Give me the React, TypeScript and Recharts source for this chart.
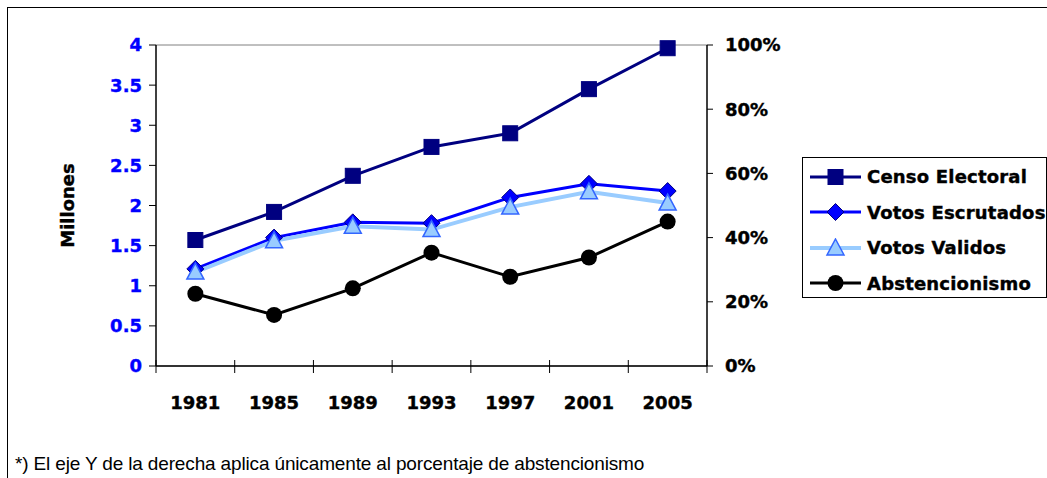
import React from 'react';
import { LineChart, Line, XAxis, YAxis, Label, ReferenceLine } from 'recharts';

// años de las elecciones
const YEARS = ['1981', '1985', '1989', '1993', '1997', '2001', '2005'];
// millones de personas
const CENSO = [1.57, 1.92, 2.37, 2.73, 2.9, 3.45, 3.96];
const ESCRUTADOS = [1.21, 1.6, 1.79, 1.78, 2.1, 2.27, 2.18];
const VALIDOS = [1.17, 1.56, 1.74, 1.7, 1.98, 2.17, 2.03];
// porcentaje (eje derecho)
const ABSTENCION = [22.5, 15.9, 24.2, 35.3, 27.8, 33.8, 45.0];

const LEFT_TICKS = [0, 0.5, 1, 1.5, 2, 2.5, 3, 3.5, 4];
const RIGHT_TICKS = [0, 20, 40, 60, 80, 100];

const SERIES = [
  { key: 'censo', name: 'Censo Electoral', color: '#000080', width: 3, shape: 'square' },
  { key: 'escrutados', name: 'Votos Escrutados', color: '#0000FF', width: 3, shape: 'diamond' },
  { key: 'validos', name: 'Votos Validos', color: '#99CCFF', width: 4, shape: 'triangle' },
  { key: 'abst', name: 'Abstencionismo', color: '#000000', width: 3, shape: 'circle' },
];

const data = YEARS.map((year, i) => ({
  year,
  censo: CENSO[i],
  escrutados: ESCRUTADOS[i],
  validos: VALIDOS[i],
  abst: ABSTENCION[i],
}));

const CHART_W = 1039;
const CHART_H = 470;
const MARGIN = { top: 37, right: 240, left: 0, bottom: 52 };
const LEFT_W = 148;
const RIGHT_W = 100;
const PLOT_W = CHART_W - MARGIN.left - MARGIN.right - LEFT_W - RIGHT_W;
const HALF = PLOT_W / YEARS.length / 2;

const BOLD = '"DejaVu Sans", sans-serif';
const FS = 18;

const marker = (shape: string, cx: number, cy: number, key?: string) => {
  if (shape === 'square')
    return <rect key={key} x={cx - 7.5} y={cy - 7.5} width={15} height={15} fill="#000080" stroke="#000080" />;
  if (shape === 'diamond')
    return (
      <polygon
        key={key}
        points={`${cx},${cy - 8.5} ${cx + 8.5},${cy} ${cx},${cy + 8.5} ${cx - 8.5},${cy}`}
        fill="#0000FF"
        stroke="#000080"
        strokeWidth={1}
      />
    );
  if (shape === 'triangle')
    return (
      <polygon
        key={key}
        points={`${cx},${cy - 9} ${cx + 8.5},${cy + 7} ${cx - 8.5},${cy + 7}`}
        fill="#99CCFF"
        stroke="#3366FF"
        strokeWidth={1.5}
      />
    );
  return <circle key={key} cx={cx} cy={cy} r={8} fill="#000000" />;
};

const dotFor = (shape: string) => (props: any) => {
  const { cx, cy, index } = props;
  if (cx == null || cy == null) return <g key={`${shape}-${index}`} />;
  return marker(shape, cx, cy, `${shape}-${index}`);
};

const YearTick = (props: any) => {
  const { x, y, payload, index } = props;
  const last = index === YEARS.length - 1;
  return (
    <g>
      <line x1={x - HALF} x2={x - HALF} y1={y - 6} y2={y + 7} stroke="#000" strokeWidth={1} />
      {last && <line x1={x + HALF} x2={x + HALF} y1={y - 6} y2={y + 7} stroke="#000" strokeWidth={1} />}
      <text
        x={x}
        y={y + 36}
        textAnchor="middle"
        dominantBaseline="central"
        fontFamily={BOLD}
        fontWeight="bold"
        fontSize={FS}
        fill="#000"
        stroke="#000"
        strokeWidth={0.4}
      >
        {payload.value}
      </text>
    </g>
  );
};

const ChartLegend = () => (
  <div
    style={{
      position: 'absolute',
      left: 794,
      top: 149,
      border: '1px solid #000',
      width: 243,
      height: 138,
      paddingTop: 1,
      boxSizing: 'content-box',
      background: '#fff',
      overflow: 'hidden',
    }}
  >
    {SERIES.map((s) => (
      <div key={s.key} style={{ display: 'flex', alignItems: 'center', height: 35.5 }}>
        <svg width={57} height={20} style={{ marginLeft: 7, flex: 'none' }}>
          <line x1={0} x2={51} y1={10} y2={10} stroke={s.color} strokeWidth={s.width} />
          {marker(s.shape, 25.5, 10)}
        </svg>
        <span
          style={{
            fontFamily: BOLD,
            fontWeight: 'bold',
            fontSize: FS,
            color: '#000',
            whiteSpace: 'nowrap',
            letterSpacing: 0.2,
            WebkitTextStroke: '0.4px #000',
          }}
        >
          {s.name}
        </span>
      </div>
    ))}
  </div>
);

export default function App() {
  return (
    <div
      style={{
        position: 'absolute',
        left: 7,
        top: 7,
        width: 1040,
        height: 471,
        boxSizing: 'border-box',
        borderTop: '1px solid #000',
        borderLeft: '1px solid #000',
        overflow: 'hidden',
        background: '#fff',
      }}
    >
      <LineChart width={CHART_W} height={CHART_H} data={data} margin={MARGIN}>
        <XAxis
          dataKey="year"
          tick={<YearTick />}
          tickLine={false}
          tickSize={0}
          tickMargin={0}
          padding={{ left: HALF, right: HALF }}
          axisLine={{ stroke: '#333', strokeWidth: 2 }}
          height={60}
          interval={0}
        />
        <YAxis
          yAxisId="left"
          width={LEFT_W}
          domain={[0, 4]}
          ticks={LEFT_TICKS}
          interval={0}
          tickSize={7}
          tickMargin={7}
          axisLine={{ stroke: '#000', strokeWidth: 1.5 }}
          tickLine={{ stroke: '#000' }}
          tick={{ fill: '#0000FF', stroke: '#0000FF', strokeWidth: 0.4, fontFamily: BOLD, fontWeight: 'bold', fontSize: FS }}
        >
          <Label
            value="Millones"
            angle={-90}
            position="center"
            dx={-14}
            style={{ fontFamily: BOLD, fontWeight: 'bold', fontSize: FS, fill: '#000', stroke: '#000', strokeWidth: 0.4 }}
          />
        </YAxis>
        <YAxis
          yAxisId="right"
          orientation="right"
          width={RIGHT_W}
          domain={[0, 100]}
          ticks={RIGHT_TICKS}
          interval={0}
          tickSize={6}
          tickMargin={12}
          tickFormatter={(v: number) => `${v}%`}
          axisLine={{ stroke: '#000', strokeWidth: 1.5 }}
          tickLine={{ stroke: '#000' }}
          tick={{ fill: '#000', stroke: '#000', strokeWidth: 0.4, fontFamily: BOLD, fontWeight: 'bold', fontSize: FS, textAnchor: 'start' }}
        />
        <ReferenceLine yAxisId="left" y={4} stroke="#808080" strokeWidth={1} />
        {SERIES.map((s) => (
          <Line
            key={s.key}
            yAxisId={s.key === 'abst' ? 'right' : 'left'}
            dataKey={s.key}
            name={s.name}
            stroke={s.color}
            strokeWidth={s.width}
            dot={dotFor(s.shape)}
            activeDot={false}
            isAnimationActive={false}
          />
        ))}
      </LineChart>
      <ChartLegend />
      <div
        style={{
          position: 'absolute',
          left: 7,
          top: 446,
          fontFamily: '"Liberation Sans", Arial, sans-serif',
          fontSize: 19,
          lineHeight: '19px',
          letterSpacing: -0.15,
          color: '#000',
          whiteSpace: 'nowrap',
        }}
      >
        *) El eje Y de la derecha aplica únicamente al porcentaje de abstencionismo
      </div>
    </div>
  );
}
